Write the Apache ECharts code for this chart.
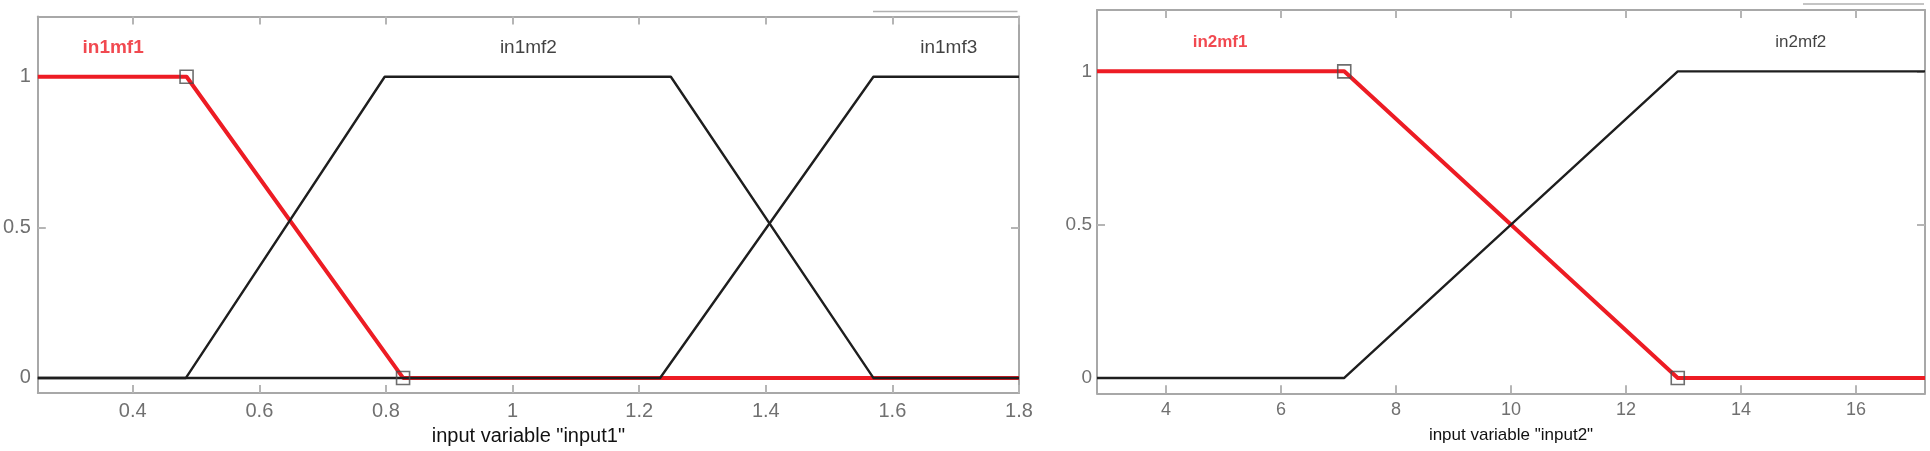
<!DOCTYPE html>
<html><head><meta charset="utf-8">
<script src="https://cdn.jsdelivr.net/npm/echarts@6/dist/echarts.min.js"></script>
<style>html,body{margin:0;padding:0;background:#fff}#c{width:1930px;height:451px}</style>
</head><body><div id="c"></div>
<script>
// ---- Plot 1: input variable "input1"
const in1Range = [0.25, 1.8];
const in1Ticks = [0.4, 0.6, 0.8, 1, 1.2, 1.4, 1.6, 1.8];
const in1mf1 = [[0.25, 1], [0.485, 1], [0.827, 0], [1.8, 0]];
const in1mf2 = [[0.25, 0], [0.484, 0], [0.798, 1], [1.25, 1], [1.57, 0], [1.8, 0]];
const in1mf3 = [[0.25, 0], [1.233, 0], [1.57, 1], [1.8, 1]];
const in1Names = ['in1mf1', 'in1mf2', 'in1mf3'];
const in1NameX = [0.369, 1.025, 1.689];
const in1NameY = [1.097, 1.097, 1.097];
const in1Title = 'input variable "input1"';

// ---- Plot 2: input variable "input2"
const in2Range = [2.8, 17.2];
const in2Ticks = [4, 6, 8, 10, 12, 14, 16];
const in2mf1 = [[2.8, 1], [7.1, 1], [12.9, 0], [17.2, 0]];
const in2mf2 = [[2.8, 0], [7.1, 0], [12.9, 1], [17.2, 1]];
const in2Names = ['in2mf1', 'in2mf2'];
const in2NameX = [4.94, 15.04];
const in2NameY = [1.094, 1.094];
const in2Title = 'input variable "input2"';

const yRange = [-0.05, 1.2];
const yTicks = [0, 0.5, 1];

const RED = '#ed1c24', BLACK = '#1e1e1e', FRAME = '#a8a8a8', TICKTXT = '#707070';
const FONT = '"Liberation Sans", Arial, sans-serif';

const chart = echarts.init(document.getElementById('c'), null, {renderer: 'canvas'});

function xAxes(gi, range, ticks, title, fs, nfs, lblMargin, nameGap) {
  const common = {
    type: 'value', gridIndex: gi, min: range[0], max: range[1],
    splitLine: {show: false},
    axisLine: {show: true, onZero: false, lineStyle: {color: FRAME, width: 2}},
    axisTick: {show: true, inside: true, length: 8, customValues: ticks, lineStyle: {color: '#b5b5b5', width: 2}}
  };
  return [
    Object.assign({}, common, {
      position: 'bottom',
      axisLabel: {show: true, customValues: ticks, color: TICKTXT, fontSize: fs, fontFamily: FONT, margin: lblMargin},
      name: title, nameLocation: 'middle', nameGap: nameGap,
      nameTextStyle: {color: '#111', fontSize: nfs, fontFamily: FONT}
    }),
    Object.assign({}, common, {position: 'top', axisLabel: {show: false}})
  ];
}
function yAxes(gi, fs, lblMargin) {
  const common = {
    type: 'value', gridIndex: gi, min: yRange[0], max: yRange[1],
    splitLine: {show: false},
    axisLine: {show: true, onZero: false, lineStyle: {color: FRAME, width: 2}},
    axisTick: {show: true, inside: true, length: 8, customValues: yTicks, lineStyle: {color: '#b5b5b5', width: 2}}
  };
  return [
    Object.assign({}, common, {position: 'left',
      axisLabel: {show: true, customValues: yTicks, color: TICKTXT, fontSize: fs, fontFamily: FONT, margin: lblMargin}}),
    Object.assign({}, common, {position: 'right', axisLabel: {show: false}})
  ];
}

function mfLine(data, xi, yi, color, width, z) {
  return {type: 'line', xAxisIndex: xi, yAxisIndex: yi, data: data, showSymbol: false, symbol: 'none',
    lineStyle: {color: color, width: width, join: 'round'}, z: z, silent: true, animation: false};
}
function handles(data, xi, yi) {
  return {type: 'scatter', xAxisIndex: xi, yAxisIndex: yi, data: data, symbol: 'rect', symbolSize: 13,
    itemStyle: {color: 'rgba(0,0,0,0)', borderColor: '#4a4a4a', borderWidth: 1.6}, z: 5, silent: true, animation: false};
}
function nameLabels(names, xs, ys, xi, yi, fs, selIdx) {
  return {type: 'scatter', xAxisIndex: xi, yAxisIndex: yi, symbolSize: 0.1, silent: true, animation: false,
    itemStyle: {color: 'rgba(0,0,0,0)'},
    data: names.map((n, i) => ({
      value: [xs[i], ys[i]], name: n,
      label: {show: true, position: 'inside', formatter: n, fontFamily: FONT, fontSize: fs,
        color: i === selIdx ? RED : '#111', fontWeight: i === selIdx ? 'bold' : 'normal'}
    }))};
}

const option = {
  animation: false,
  backgroundColor: '#fff',
  grid: [
    {left: 36, top: 16.5, width: 983, height: 376.5},
    {left: 1097, top: 10, width: 828, height: 383.3}
  ],
  xAxis: [].concat(xAxes(0, in1Range, in1Ticks, in1Title, 20, 20, 8, 33),
                   xAxes(1, in2Range, in2Ticks, in2Title, 18, 17, 8, 34)),
  yAxis: [].concat(yAxes(0, 20, 7), yAxes(1, 19, 5)),
  series: [
    mfLine(in1mf1, 0, 0, RED, 4, 2),
    mfLine(in1mf2, 0, 0, BLACK, 2.4, 3),
    mfLine(in1mf3, 0, 0, BLACK, 2.4, 3),
    handles(in1mf1.slice(1, 3), 0, 0),
    nameLabels(in1Names, in1NameX, in1NameY, 0, 0, 19, 0),
    mfLine(in2mf1, 2, 2, RED, 4, 2),
    mfLine(in2mf2, 2, 2, BLACK, 2.4, 3),
    handles(in2mf1.slice(1, 3), 2, 2),
    nameLabels(in2Names, in2NameX, in2NameY, 2, 2, 17, 0)
  ],
  graphic: [
    {type: 'line', shape: {x1: 873, y1: 11.5, x2: 1017.5, y2: 11.5}, style: {stroke: '#b0b0b0', lineWidth: 1.5}, silent: true},
    {type: 'line', shape: {x1: 1803, y1: 4, x2: 1924, y2: 4}, style: {stroke: '#b0b0b0', lineWidth: 1.5}, silent: true}
  ]
};
chart.setOption(option);
</script>
</body></html>
